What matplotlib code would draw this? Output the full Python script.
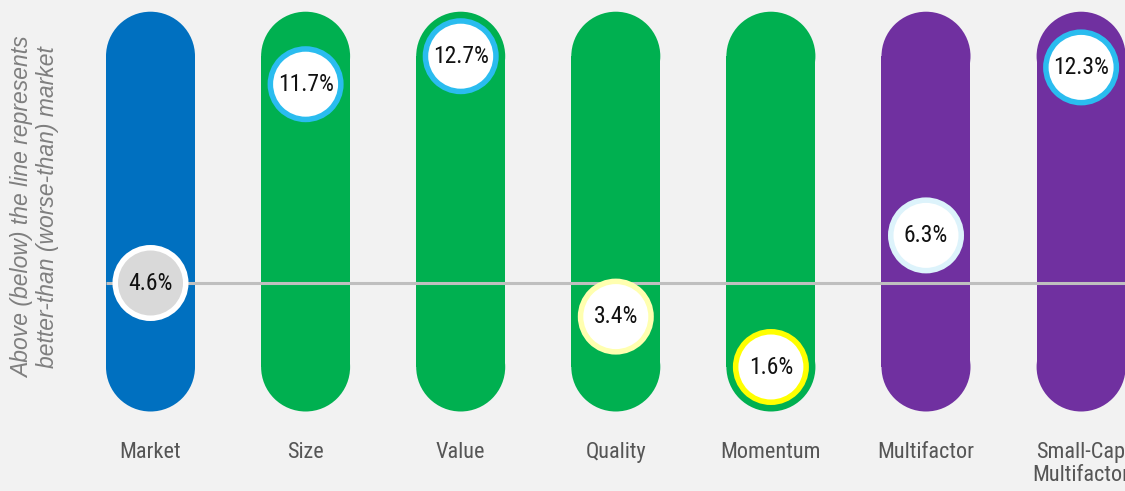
import os
import matplotlib
matplotlib.use("Agg")
import matplotlib.pyplot as plt
from matplotlib.patches import Ellipse, Rectangle
from matplotlib import font_manager

categories = ["Market", "Size", "Value", "Quality", "Momentum", "Multifactor", "Small-Cap\nMultifactor"]
values = [4.6, 11.7, 12.7, 3.4, 1.6, 6.3, 12.3]
labels = ["4.6%", "11.7%", "12.7%", "3.4%", "1.6%", "6.3%", "12.3%"]
bar_colors = ["#0070C0", "#00B050", "#00B050", "#00B050", "#00B050", "#7030A0", "#7030A0"]
ring_colors = ["#FFFFFF", "#2ABCEF", "#2ABCEF", "#FFFFB0", "#FFFF00", "#DDF3FB", "#2ABCEF"]
inner_colors = ["#D9D9D9", "#FFFFFF", "#FFFFFF", "#FFFFFF", "#FFFFFF", "#FFFFFF", "#FFFFFF"]
market_value = 4.6
ylabel_text = "Above (below) the line represents\nbetter-than (worse-than) market"

# find a condensed font file
files = [f.fname for f in font_manager.fontManager.ttflist]
prefs = ["RobotoCondensed-Regular", "LiberationSansNarrow-Regular", "DejaVuSansCondensed.ttf",
         "OpenSans_Condensed-Regular", "OpenSans-CondensedRegular", "NotoSans-CondensedRegular"]
cond_file = None
for p in prefs:
    for f in files:
        if p in os.path.basename(f):
            cond_file = f
            break
    if cond_file:
        break
if cond_file is None:
    for f in files:
        b = os.path.basename(f).lower()
        if ("condensed" in b or "narrow" in b) and "bold" not in b and "italic" not in b and "oblique" not in b:
            cond_file = f
            break
if cond_file:
    cond = font_manager.FontProperties(fname=cond_file)
else:
    cond = font_manager.FontProperties(family="DejaVu Sans", stretch="condensed")

W, H, DPI = 1125, 491, 100
fig = plt.figure(figsize=(W / DPI, H / DPI), dpi=DPI)
fig.patch.set_facecolor("#F2F2F2")
ax = fig.add_axes([0, 0, 1, 1])
ax.set_facecolor("#F2F2F2")
ax.axis("off")

x0_px, dx_px = 150.5, 155.1
y_ref_px, py_per_unit = 283.0, 28.0
ax.set_xlim(-x0_px / dx_px, (W - x0_px) / dx_px)
ax.set_ylim(market_value - (H - y_ref_px) / py_per_unit, market_value + y_ref_px / py_per_unit)

bar_w = 89 / dx_px
cap_h = 89 / py_per_unit
lo, hi = min(values), max(values)

for i, c in enumerate(bar_colors):
    ax.add_patch(Rectangle((i - bar_w / 2, lo), bar_w, hi - lo, facecolor=c, edgecolor="none", zorder=1))
    ax.add_patch(Ellipse((i, lo), bar_w, cap_h, facecolor=c, edgecolor="none", zorder=1))
    ax.add_patch(Ellipse((i, hi), bar_w, cap_h, facecolor=c, edgecolor="none", zorder=1))

ax.plot([-bar_w / 2, len(categories)], [market_value, market_value], color="#BFBFBF", lw=2.2, zorder=2,
        solid_capstyle="butt")

ring_px = 5.5
outer_px = 76
d_pt = (outer_px - ring_px) * 72 / DPI
ax.scatter(range(len(values)), values, s=d_pt ** 2, c=inner_colors, edgecolors=ring_colors,
           linewidths=ring_px * 72 / DPI, zorder=3)

vp = cond.copy()
vp.set_size(17)
for i, (v, t) in enumerate(zip(values, labels)):
    ax.text(i, v, t, ha="center", va="center", fontproperties=vp, color="#111111", zorder=4)

cp = cond.copy()
cp.set_size(16)
cat_y = market_value - (442 - y_ref_px) / py_per_unit
for i, c in enumerate(categories):
    ax.text(i, cat_y, c, ha="center", va="top", fontproperties=cp, color="#555555",
            linespacing=1.1, zorder=4)

fig.text(35 / W, 1 - 207 / H, ylabel_text, rotation=90, ha="center", va="center", multialignment="center",
         fontsize=16.5, style="italic", color="#7F7F7F", family="Liberation Sans", linespacing=1.15)

fig.savefig("out.png", dpi=DPI, facecolor=fig.get_facecolor())
